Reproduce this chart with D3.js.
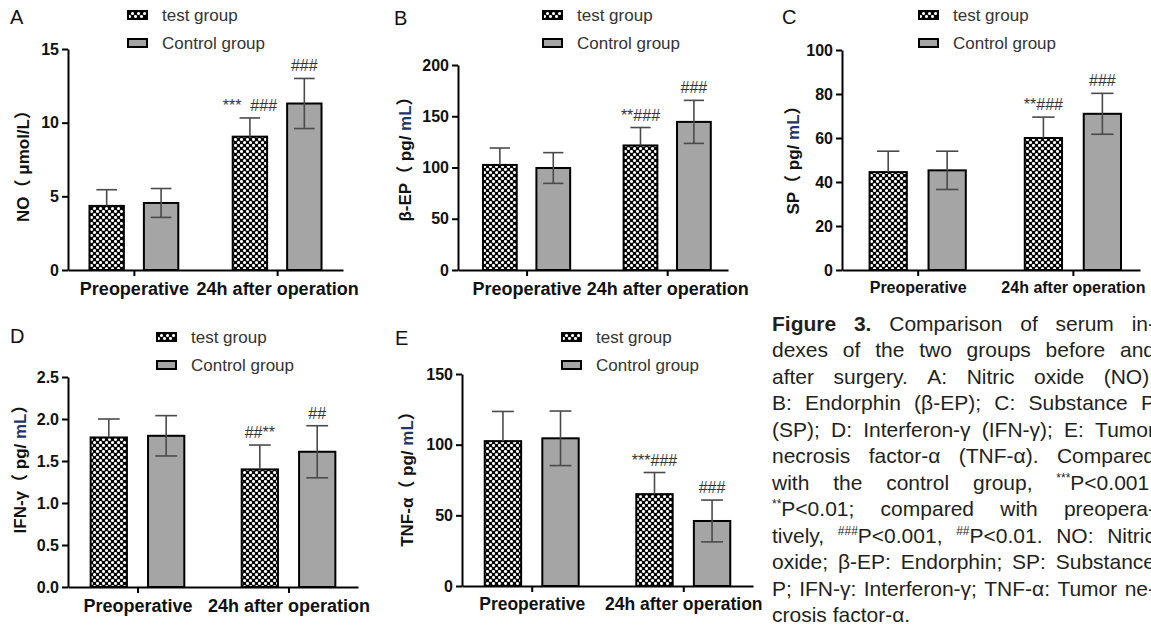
<!DOCTYPE html>
<html>
<head>
<meta charset="utf-8">
<script src="https://cdn.jsdelivr.net/npm/d3@7"></script>
<style>
body{margin:0;background:#fff;overflow:hidden}
svg{display:block;font-family:"Liberation Sans",Arial,"Noto Sans CJK SC",sans-serif}
</style>
</head>
<body>
<svg id="fig" width="1151" height="625"></svg>
<script>
// data
const categories = ["Preoperative", "24h after operation"];
const groups = ["test group", "Control group"];
const panelIds = ["A", "B", "C", "D", "E"];
const yTitles = ["NO（ μmol/L）", "β-EP（ pg/ mL）", "SP（ pg/ mL）", "IFN-γ（ pg/ mL）", "TNF-α（ pg/ mL）"];
const yMax = [15, 200, 100, 2.5, 150];
const yTicks = [[0, 5, 10, 15], [0, 50, 100, 150, 200], [0, 20, 40, 60, 80, 100], [0, 0.5, 1, 1.5, 2, 2.5], [0, 50, 100, 150]];
const testMeans = [[4.35, 9.05], [102.5, 121.5], [44.5, 60], [1.78, 1.40], [102.5, 65]];
const testSds = [[1.1, 1.27], [16.5, 17.5], [9.5, 9.5], [0.22, 0.29], [21, 15.3]];
const controlMeans = [[4.55, 11.3], [99.5, 144.5], [45.3, 71], [1.80, 1.61], [104.5, 46]];
const controlSds = [[0.98, 1.7], [15, 21], [8.7, 9.3], [0.24, 0.31], [19.3, 14.8]];
const sigTest = [[null, "***  ###"], [null, "**###"], [null, "**###"], [null, "##**"], [null, "***###"]];
const sigControl = [[null, "###"], [null, "###"], [null, "###"], [null, "##"], [null, "###"]];

const captionLines = [
  "~Figure ~3. Comparison of serum in-",
  "dexes of the two groups before and",
  "after surgery. A: Nitric oxide (NO);",
  "B: Endorphin (β-EP); C: Substance P",
  "(SP); D: Interferon-γ (IFN-γ); E: Tumor",
  "necrosis factor-α (TNF-α). Compared",
  "with the control group, [***]P<0.001,",
  "[**]P<0.01; compared with preopera-",
  "tively, [###]P<0.001, [##]P<0.01. NO: Nitric",
  "oxide; β-EP: Endorphin; SP: Substance",
  "P; IFN-γ: Interferon-γ; TNF-α: Tumor ne-",
  "crosis factor-α."
];

// where each panel sits on the page (fs = size of the category labels)
const layout = [
  {x0: 68, x1: 343, yTop: 49, yBot: 270, al: 0.5, fs: 18, lx: 128, ly: 15, tx: 23, ty: 162, px: 10, py: 24},
  {x0: 458, x1: 728, yTop: 65, yBot: 270, al: 0.53, fs: 18, lx: 543, ly: 15, tx: 405, ty: 155, px: 394, py: 25},
  {x0: 842, x1: 1140, yTop: 50, yBot: 270, al: 0.53, fs: 16, lx: 919, ly: 15, tx: 793, ty: 156, px: 782, py: 24},
  {x0: 68, x1: 358, yTop: 377, yBot: 587, al: 0.5, fs: 18, lx: 157, ly: 337, tx: 20, ty: 465, px: 10, py: 343},
  {x0: 462, x1: 753, yTop: 374, yBot: 586, al: 0.5, fs: 17.5, lx: 562, ly: 337, tx: 407, ty: 475, px: 395, py: 345}
];

const svg = d3.select("#fig");
const font = '"Liberation Sans",Arial,"Noto Sans CJK SC",sans-serif';

// checker dot fill of the test bars
const pat = svg.append("defs").append("pattern")
  .attr("id", "dots").attr("patternUnits", "userSpaceOnUse")
  .attr("width", 6).attr("height", 6);
pat.append("rect").attr("width", 6).attr("height", 6).attr("fill", "#000");
pat.selectAll("circle").data([[1.5, 1.5], [4.5, 4.5]]).enter().append("circle")
  .attr("cx", d => d[0]).attr("cy", d => d[1]).attr("r", 1.55).attr("fill", "#fff");

const fillOf = grp => grp === groups[0] ? "url(#dots)" : "#a5a5a5";

panelIds.forEach((pid, i) => {
  const L = layout[i];
  const g = svg.append("g").attr("class", "panel-" + pid);

  const x = d3.scalePoint().domain(categories).range([L.x0, L.x1]).padding(0.46).align(L.al);
  const step = x.step();
  const xs = d3.scaleBand().domain(groups).range([-0.31 * step, 0.31 * step]).paddingInner(0.368);
  const y = d3.scaleLinear().domain([0, yMax[i]]).range([L.yBot, L.yTop]);

  const rows = [];
  categories.forEach((c, j) => {
    rows.push({cat: c, grp: groups[0], m: testMeans[i][j], sd: testSds[i][j], sig: sigTest[i][j]});
    rows.push({cat: c, grp: groups[1], m: controlMeans[i][j], sd: controlSds[i][j], sig: sigControl[i][j]});
  });
  const bx = d => x(d.cat) + xs(d.grp);
  const cx = d => bx(d) + xs.bandwidth() / 2;

  g.selectAll("rect.bar").data(rows).enter().append("rect")
    .attr("class", "bar")
    .attr("x", bx)
    .attr("y", d => y(d.m))
    .attr("width", xs.bandwidth())
    .attr("height", d => y(0) - y(d.m))
    .attr("fill", d => fillOf(d.grp))
    .attr("stroke", "#000").attr("stroke-width", 2);

  // error bars (lower half only shows on the grey bars)
  const cap = xs.bandwidth() * 0.3;
  const eb = g.selectAll("g.err").data(rows).enter().append("g")
    .attr("class", "err").attr("stroke", "#4a4a4a").attr("stroke-width", 1.6);
  eb.append("line")
    .attr("x1", cx).attr("x2", cx)
    .attr("y1", d => y(d.grp === groups[0] ? d.m : d.m - d.sd))
    .attr("y2", d => y(d.m + d.sd));
  eb.append("line")
    .attr("x1", d => cx(d) - cap).attr("x2", d => cx(d) + cap)
    .attr("y1", d => y(d.m + d.sd)).attr("y2", d => y(d.m + d.sd));
  eb.filter(d => d.grp === groups[1]).append("line")
    .attr("x1", d => cx(d) - cap).attr("x2", d => cx(d) + cap)
    .attr("y1", d => y(d.m - d.sd)).attr("y2", d => y(d.m - d.sd));

  g.selectAll("text.sig").data(rows.filter(d => d.sig)).enter().append("text")
    .attr("class", "sig")
    .attr("x", cx)
    .attr("y", d => y(d.m + d.sd) - 7)
    .attr("text-anchor", "middle")
    .attr("font-size", 16)
    .attr("fill", "#333")
    .style("white-space", "pre")
    .text(d => d.sig);

  // axes
  const ya = g.append("g").attr("transform", `translate(${L.x0},0)`)
    .call(d3.axisLeft(y).tickValues(yTicks[i]).tickFormat(d3.format(i === 3 ? ".1f" : "d"))
      .tickSize(6).tickSizeOuter(0).tickPadding(3));
  const xa = g.append("g").attr("transform", `translate(0,${L.yBot})`)
    .call(d3.axisBottom(x).tickSize(6).tickSizeOuter(0).tickPadding(6));
  ya.attr("font-size", 16);
  xa.attr("font-size", L.fs);
  [ya, xa].forEach(a => {
    a.attr("font-family", font).attr("font-weight", "bold");
    a.select(".domain").attr("stroke-width", 2);
    a.selectAll(".tick line").attr("stroke-width", 2);
    a.selectAll(".tick text").attr("fill", "#111");
  });

  // y title
  const parts = yTitles[i].split("mL");
  const tt = g.append("text")
    .attr("transform", `translate(${L.tx},${L.ty}) rotate(-90)`)
    .attr("text-anchor", "middle").attr("dy", "0.35em")
    .attr("font-size", 17).attr("font-weight", "bold").attr("fill", "#111");
  tt.append("tspan").text(parts[0]);
  if (parts.length > 1) {
    tt.append("tspan").attr("fill", "#1d3567").text("mL");
    tt.append("tspan").text(parts[1]);
  }

  // legend
  const lg = g.selectAll("g.leg").data(groups).enter().append("g")
    .attr("class", "leg")
    .attr("transform", (d, k) => `translate(${L.lx},${L.ly + k * 28})`);
  lg.append("rect").attr("x", 0).attr("y", -4).attr("width", 19).attr("height", 8)
    .attr("fill", d => fillOf(d)).attr("stroke", "#000").attr("stroke-width", 2);
  lg.append("text").attr("x", 34).attr("dy", "0.35em")
    .attr("font-size", 17).attr("fill", "#333").text(d => d);

  // panel letter
  g.append("text").attr("x", L.px).attr("y", L.py)
    .attr("font-size", 20).attr("fill", "#111").text(pid);
});

// caption, justified column clipped by the page edge
const capLeft = 772, capRight = 1155, capTop = 330.5, capLead = 26.5;
const capG = svg.append("g").attr("font-size", 21).attr("fill", "#231f20");
captionLines.forEach((line, k) => {
  const lineG = capG.append("g");
  const nodes = line.split(" ").map(w => {
    const t = lineG.append("text").attr("y", capTop + k * capLead);
    if (w.startsWith("~")) { t.attr("font-weight", "bold"); w = w.slice(1); }
    let raised = false;
    w.split(/(\[[^\]]*\])/).filter(s => s).forEach(s => {
      if (s[0] === "[") {
        t.append("tspan").attr("font-size", 12).attr("dy", -8).text(s.slice(1, -1));
        raised = true;
      } else {
        const sp = t.append("tspan").text(s);
        if (raised) { sp.attr("dy", 8); raised = false; }
      }
    });
    return t;
  });
  const widths = nodes.map(n => n.node().getComputedTextLength());
  const total = d3.sum(widths);
  const last = k === captionLines.length - 1;
  const gap = last ? 21 * 0.278 : (capRight - capLeft - total) / (nodes.length - 1);
  let cur = capLeft;
  nodes.forEach((n, j) => {
    n.attr("x", cur);
    cur += widths[j] + gap;
  });
});
</script>
</body>
</html>
